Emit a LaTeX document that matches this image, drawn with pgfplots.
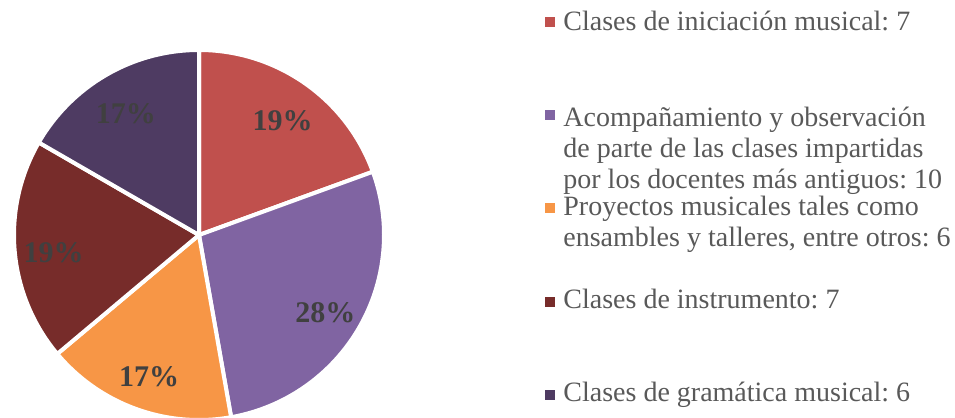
\documentclass[border=0pt]{standalone}
\usepackage{pgfplots}
\pgfplotsset{compat=1.18}
\usepackage{fontspec}
\setmainfont{Liberation Serif}
\frenchspacing

\definecolor{cA}{HTML}{C0504D}
\definecolor{cB}{HTML}{8064A2}
\definecolor{cC}{HTML}{F79646}
\definecolor{cD}{HTML}{772C2A}
\definecolor{cE}{HTML}{4E3B62}
\definecolor{legtext}{HTML}{595959}
\definecolor{pcttext}{HTML}{404040}

% data
\def\va{7}\def\vb{10}\def\vc{6}\def\vd{7}\def\ve{6}
\pgfmathsetmacro{\tot}{\va+\vb+\vc+\vd+\ve}
% cumulative angles, clockwise from the top
\pgfmathsetmacro{\aZ}{90}
\pgfmathsetmacro{\aA}{\aZ-360*\va/\tot}
\pgfmathsetmacro{\aB}{\aA-360*\vb/\tot}
\pgfmathsetmacro{\aC}{\aB-360*\vc/\tot}
\pgfmathsetmacro{\aD}{\aC-360*\vd/\tot}
\pgfmathsetmacro{\aE}{\aD-360*\ve/\tot}
\pgfmathtruncatemacro{\pA}{round(100*\va/\tot)}
\pgfmathtruncatemacro{\pB}{round(100*\vb/\tot)}
\pgfmathtruncatemacro{\pC}{round(100*\vc/\tot)}
\pgfmathtruncatemacro{\pD}{round(100*\vd/\tot)}
\pgfmathtruncatemacro{\pE}{round(100*\ve/\tot)}

\def\cx{199}\def\cy{183}\def\R{185}\def\L{146}

% slice: colour, start angle, end angle
\newcommand{\slice}[3]{%
  \fill[#1, draw=white, line width=2pt] (axis cs:\cx,\cy) --
    (axis cs:{\cx+\R*cos(#2)},{\cy+\R*sin(#2)})
    arc[start angle=#2, end angle=#3, radius=92.5pt] -- cycle;}
\newcommand{\pct}[3]{%
  \node[font=\fontsize{15}{17}\selectfont\bfseries, text=pcttext]
    at (axis cs:{\cx+\L*cos((#1+#2)/2)},{\cy-5+\L*sin((#1+#2)/2)}) {#3\%};}
\newcommand{\legsq}[2]{%
  \fill[#1] (axis cs:545,{418-#2-5}) rectangle (axis cs:555,{418-#2+5});}
\newcommand{\legline}[2]{%
  \node[anchor=base west, inner sep=0pt, text=legtext,
    font=\fontsize{14}{16}\selectfont] at (axis cs:563,{418-#1}) {#2};}

\begin{document}
\begin{tikzpicture}
\path[use as bounding box] (0,0) rectangle (477.5pt,209pt);
\begin{axis}[
    at={(0,0)}, anchor=south west,
    scale only axis, width=477.5pt, height=209pt,
    xmin=0, xmax=955, ymin=0, ymax=418,
    hide axis, clip=false
]
\slice{cA}{\aZ}{\aA}
\slice{cB}{\aA}{\aB}
\slice{cC}{\aB}{\aC}
\slice{cD}{\aC}{\aD}
\slice{cE}{\aD}{\aE}
\pct{\aZ}{\aA}{\pA}
\pct{\aA}{\aB}{\pB}
\pct{\aB}{\aC}{\pC}
\pct{\aC}{\aD}{\pD}
\pct{\aD}{\aE}{\pE}

\legsq{cA}{22}
\legline{31}{Clases de iniciación musical: \va}
\legsq{cB}{115}
\legline{127}{Acompañamiento y observación}
\legline{158}{de parte de las clases impartidas}
\legline{189}{por los docentes más antiguos: \vb}
\legsq{cC}{208}
\legline{216}{Proyectos musicales tales como}
\legline{247}{ensambles y talleres, entre otros: \vc}
\legsq{cD}{302}
\legline{309}{Clases de instrumento: \vd}
\legsq{cE}{395}
\legline{402}{Clases de gramática musical: \ve}
\end{axis}
\end{tikzpicture}
\end{document}
